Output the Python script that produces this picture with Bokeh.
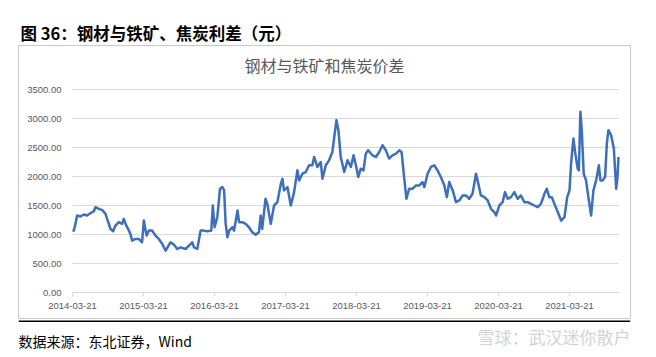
import pandas as pd
from bokeh.plotting import figure
from bokeh.layouts import column
from bokeh.models import (Range1d, FixedTicker, DatetimeTickFormatter, PrintfTickFormatter,
                          Label, BoxAnnotation, ColumnDataSource)
from bokeh.embed import file_html
from bokeh.resources import INLINE

# ---------------- data ----------------
dates = [
    "2014-03-21", "2014-03-28", "2014-04-05", "2014-04-14", "2014-05-01", "2014-05-18", "2014-06-04",
    "2014-06-21", "2014-07-09", "2014-07-17", "2014-08-03", "2014-08-20", "2014-09-07", "2014-09-15",
    "2014-09-24", "2014-10-02", "2014-10-16", "2014-10-28", "2014-11-14", "2014-12-01", "2014-12-10",
    "2014-12-19", "2015-01-05", "2015-01-13", "2015-01-22", "2015-02-08", "2015-02-25", "2015-03-14",
    "2015-03-23", "2015-04-06", "2015-04-18", "2015-05-05", "2015-05-22", "2015-06-08", "2015-06-26",
    "2015-07-13", "2015-08-07", "2015-08-25", "2015-09-11", "2015-09-28", "2015-10-24", "2015-11-10",
    "2015-11-27", "2015-12-06", "2015-12-23", "2016-01-09", "2016-01-26", "2016-02-12", "2016-03-04",
    "2016-03-12", "2016-03-21", "2016-04-04", "2016-04-18", "2016-04-30", "2016-05-09", "2016-05-17",
    "2016-05-26", "2016-06-04", "2016-06-21", "2016-06-29", "2016-07-17", "2016-07-25", "2016-08-11",
    "2016-08-28", "2016-09-14", "2016-10-01", "2016-10-18", "2016-11-04", "2016-11-13", "2016-11-21",
    "2016-12-08", "2016-12-17", "2017-01-04", "2017-01-21", "2017-02-07", "2017-02-25", "2017-03-05",
    "2017-03-13", "2017-03-31", "2017-04-17", "2017-05-04", "2017-05-21", "2017-05-30", "2017-06-16",
    "2017-07-03", "2017-07-20", "2017-08-06", "2017-08-15", "2017-09-01", "2017-09-18", "2017-09-27",
    "2017-10-14", "2017-10-31", "2017-11-17", "2017-11-29", "2017-12-08", "2017-12-18", "2017-12-30",
    "2018-01-17", "2018-02-03", "2018-02-20", "2018-03-06", "2018-03-18", "2018-03-30", "2018-04-12",
    "2018-04-26", "2018-05-08", "2018-05-20", "2018-06-11", "2018-06-29", "2018-07-16", "2018-08-02",
    "2018-08-19", "2018-09-05", "2018-09-22", "2018-10-10", "2018-10-27", "2018-11-08", "2018-11-21",
    "2018-12-03", "2018-12-17", "2019-01-03", "2019-01-21", "2019-02-07", "2019-02-24", "2019-03-05",
    "2019-03-22", "2019-04-08", "2019-04-25", "2019-05-12", "2019-05-29", "2019-06-16", "2019-06-29",
    "2019-07-11", "2019-07-29", "2019-08-15", "2019-09-01", "2019-09-18", "2019-10-05", "2019-10-22",
    "2019-11-08", "2019-11-26", "2019-12-04", "2019-12-21", "2020-01-08", "2020-01-25", "2020-02-11",
    "2020-02-28", "2020-03-08", "2020-03-25", "2020-04-11", "2020-04-23", "2020-05-07", "2020-05-24",
    "2020-06-10", "2020-06-27", "2020-07-14", "2020-08-01", "2020-08-18", "2020-09-04", "2020-09-21",
    "2020-10-08", "2020-10-25", "2020-11-12", "2020-11-24", "2020-12-07", "2020-12-20", "2021-01-02",
    "2021-01-20", "2021-02-06", "2021-02-23", "2021-03-09", "2021-03-21", "2021-03-29", "2021-04-10",
    "2021-04-20", "2021-05-02", "2021-05-08", "2021-05-16", "2021-05-23", "2021-06-02", "2021-06-14",
    "2021-06-26", "2021-07-10", "2021-07-22", "2021-08-05", "2021-08-19", "2021-08-27", "2021-09-08",
    "2021-09-20", "2021-09-29", "2021-10-07", "2021-10-21", "2021-11-04", "2021-11-16", "2021-11-23",
    "2021-11-28",
]
spread = [
    1060, 1067, 1183, 1327, 1310, 1344, 1327,
    1367, 1402, 1471, 1442, 1425, 1356, 1270,
    1183, 1096, 1056, 1154, 1212, 1183, 1270,
    1183, 1067, 1010, 894, 923, 923, 866,
    1240, 981, 1067, 1067, 981, 923, 837,
    721, 866, 825, 750, 779, 750, 808,
    866, 779, 750, 1067, 1067, 1056, 1067,
    1500, 1125, 1298, 1789, 1817, 1760, 1183,
    952, 1067, 1125, 1067, 1414, 1212, 1212,
    1183, 1125, 1038, 998, 1038, 1327, 1096,
    1616, 1529, 1183, 1500, 1558, 1875, 1962,
    1760, 1817, 1500, 1731, 2106, 1933, 2048,
    2077, 2193, 2193, 2337, 2164, 2250, 1962,
    2193, 2279, 2423, 2741, 2972, 2798, 2337,
    2077, 2279, 2164, 2366, 2193, 1991, 2135,
    2106, 2394, 2452, 2366, 2337, 2423, 2539,
    2452, 2308, 2366, 2394, 2452, 2423, 1991,
    1616, 1789, 1789, 1846, 1846, 1904, 1817,
    2048, 2164, 2193, 2106, 1991, 1846, 1644,
    1904, 1760, 1558, 1587, 1673, 1673, 1616,
    1702, 2048, 1933, 1673, 1644, 1587, 1443,
    1385, 1327, 1500, 1558, 1731, 1616, 1644,
    1731, 1616, 1673, 1558, 1558, 1529, 1500,
    1471, 1529, 1702, 1789, 1644, 1644, 1529,
    1385, 1240, 1298, 1644, 1760, 2221, 2654,
    2394, 2135, 2106, 3116, 2798, 2048, 1933,
    1644, 1327, 1760, 1933, 2193, 1933, 1933,
    1991, 2568, 2798, 2712, 2481, 1789, 1991,
    2337,
]
x_tick_labels = ["2014-03-21", "2015-03-21", "2016-03-21", "2017-03-21",
                 "2018-03-21", "2019-03-21", "2020-03-21", "2021-03-21"]
y_ticks = [0, 500, 1000, 1500, 2000, 2500, 3000, 3500]

fig_title = "图 36：钢材与铁矿、焦炭利差（元）"
chart_title = "钢材与铁矿和焦炭价差"
source_note = "数据来源：东北证券，Wind"
watermark = "雪球：武汉迷你散户"

# ---------------- layout geometry (page pixels) ----------------
W = 656
HEAD_H = 44                       # header strip: page y 0..44
BOX_L, BOX_R, BOX_T, BOX_B = 18, 630, 45, 318   # grey chart box = plot frame
MAIN_H = BOX_B + 1 - HEAD_H       # main figure: page y 44..319
FOOT_H = 357 - HEAD_H - MAIN_H    # footer strip: page y 319..357
PL, PR, PT, PB = 72, 618, 89, 292  # data area inside the box

grid_col = "#d9d9d9"
label_col = "#595959"
line_col = "#3e6fba"

df = pd.DataFrame({"date": pd.to_datetime(dates), "spread": spread})
src = ColumnDataSource(df)

tick_ms = [pd.Timestamp(t).value // 10**6 for t in x_tick_labels]
t0 = pd.Timestamp(x_tick_labels[0]).value / 1e6
t1 = df["date"].iloc[-1].value / 1e6
px_per_ms = (PR - PL) / (t1 - t0)
x_range = Range1d(t0 - (PL - BOX_L) / px_per_ms, t1 + (BOX_R - PR) / px_per_ms)
val_per_px = (y_ticks[-1] - y_ticks[0]) / (PB - PT)
y_range = Range1d(y_ticks[0] - (BOX_B - PB) * val_per_px, y_ticks[-1] + (PT - BOX_T) * val_per_px)


def blank_strip(h):
    # frame spans the same columns as the chart box (the column layout aligns frames)
    f = figure(width=W, height=h, output_backend="svg", toolbar_location=None,
               x_axis_location=None, y_axis_location=None, title=None,
               min_border_left=BOX_L, min_border_right=W - BOX_R,
               min_border_top=0, min_border_bottom=0,
               x_range=Range1d(0, 1), y_range=Range1d(0, 1))
    f.outline_line_color = None
    f.grid.visible = False
    f.background_fill_color = "white"
    f.border_fill_color = "white"
    return f


# ---------------- header ----------------
head = blank_strip(HEAD_H)
head.add_layout(Label(x=20 - BOX_L, y=HEAD_H - 32, x_units="screen", y_units="screen",
                      text=fig_title, text_font="Noto Sans CJK SC", text_font_style="bold",
                      text_font_size="16.5px", text_color="black", text_baseline="middle",
                      text_align="left"))

# ---------------- main chart ----------------
p = figure(width=W, height=MAIN_H, x_axis_type="datetime", output_backend="svg",
           toolbar_location=None, title=None,
           min_border_left=BOX_L, min_border_right=W - BOX_R,
           min_border_top=BOX_T - HEAD_H, min_border_bottom=1,
           x_range=x_range, y_range=y_range)
p.outline_line_color = "#c8c8c8"
p.outline_line_width = 1
p.background_fill_color = "white"
p.border_fill_color = "white"
p.xgrid.visible = False
p.ygrid.visible = False

# horizontal gridlines across the data period (the one at 0 is the x-axis line)
p.segment(x0=[t0] * len(y_ticks), x1=[t1] * len(y_ticks), y0=y_ticks, y1=y_ticks,
          line_color=grid_col, line_width=1)
# small tick marks hanging under the x-axis line
p.segment(x0=tick_ms, x1=tick_ms, y0=[y_ticks[0]] * len(tick_ms),
          y1=[y_ticks[0] - 4 * val_per_px] * len(tick_ms), line_color=grid_col, line_width=1)

p.line(x="date", y="spread", source=src, line_color=line_col, line_width=2.5,
       line_join="round")

xa = p.xaxis[0]
xa.ticker = FixedTicker(ticks=tick_ms)
fmt = "%Y-%m-%d"
xa.formatter = DatetimeTickFormatter(days=fmt, months=fmt, years=fmt, hours=fmt,
                                     hourmin=fmt, minutes=fmt)
xa.axis_line_color = None
xa.major_tick_line_color = None
xa.minor_tick_line_color = None
xa.major_tick_in = 0
xa.major_tick_out = 0
xa.minor_tick_in = 0
xa.minor_tick_out = 0
xa.major_label_standoff = -(BOX_B - PB - 10)
xa.major_label_text_font = "Liberation Sans"
xa.major_label_text_font_size = "9.5px"
xa.major_label_text_color = label_col

ya = p.yaxis[0]
ya.ticker = FixedTicker(ticks=y_ticks)
ya.formatter = PrintfTickFormatter(format="%.2f")
ya.axis_line_color = None
ya.major_tick_line_color = None
ya.minor_tick_line_color = None
ya.major_tick_out = 0
ya.major_tick_in = 0
ya.minor_tick_out = 0
ya.minor_tick_in = 0
ya.major_label_standoff = -(61 - BOX_L)
ya.major_label_text_font = "Liberation Sans"
ya.major_label_text_font_size = "9.5px"
ya.major_label_text_color = label_col

p.add_layout(Label(x=324 - BOX_L, y=BOX_B - 64, x_units="screen", y_units="screen",
                   text=chart_title, text_font="Noto Sans CJK SC", text_font_size="16px",
                   text_color="#595959", text_baseline="middle", text_align="center"))

# ---------------- footer ----------------
foot = blank_strip(FOOT_H)
foot.add_layout(BoxAnnotation(left=0, right=BOX_R - BOX_L, top=357 - 320, bottom=357 - 321.5,
                              left_units="screen", right_units="screen",
                              top_units="screen", bottom_units="screen",
                              fill_color="black", fill_alpha=1, line_color=None))
foot.add_layout(Label(x=0, y=357 - 340, x_units="screen", y_units="screen", text=source_note,
                      text_font="Noto Sans CJK SC", text_font_size="14px",
                      text_color="black", text_baseline="middle", text_align="left"))
foot.add_layout(Label(x=BOX_R - BOX_L, y=357 - 336, x_units="screen", y_units="screen",
                      text=watermark, text_font="Noto Sans CJK SC", text_font_size="17px",
                      text_color="#d4d4d4", text_baseline="middle", text_align="right"))

layout = column(head, p, foot, spacing=0)
open("out.html", "w").write(file_html(layout, INLINE))
